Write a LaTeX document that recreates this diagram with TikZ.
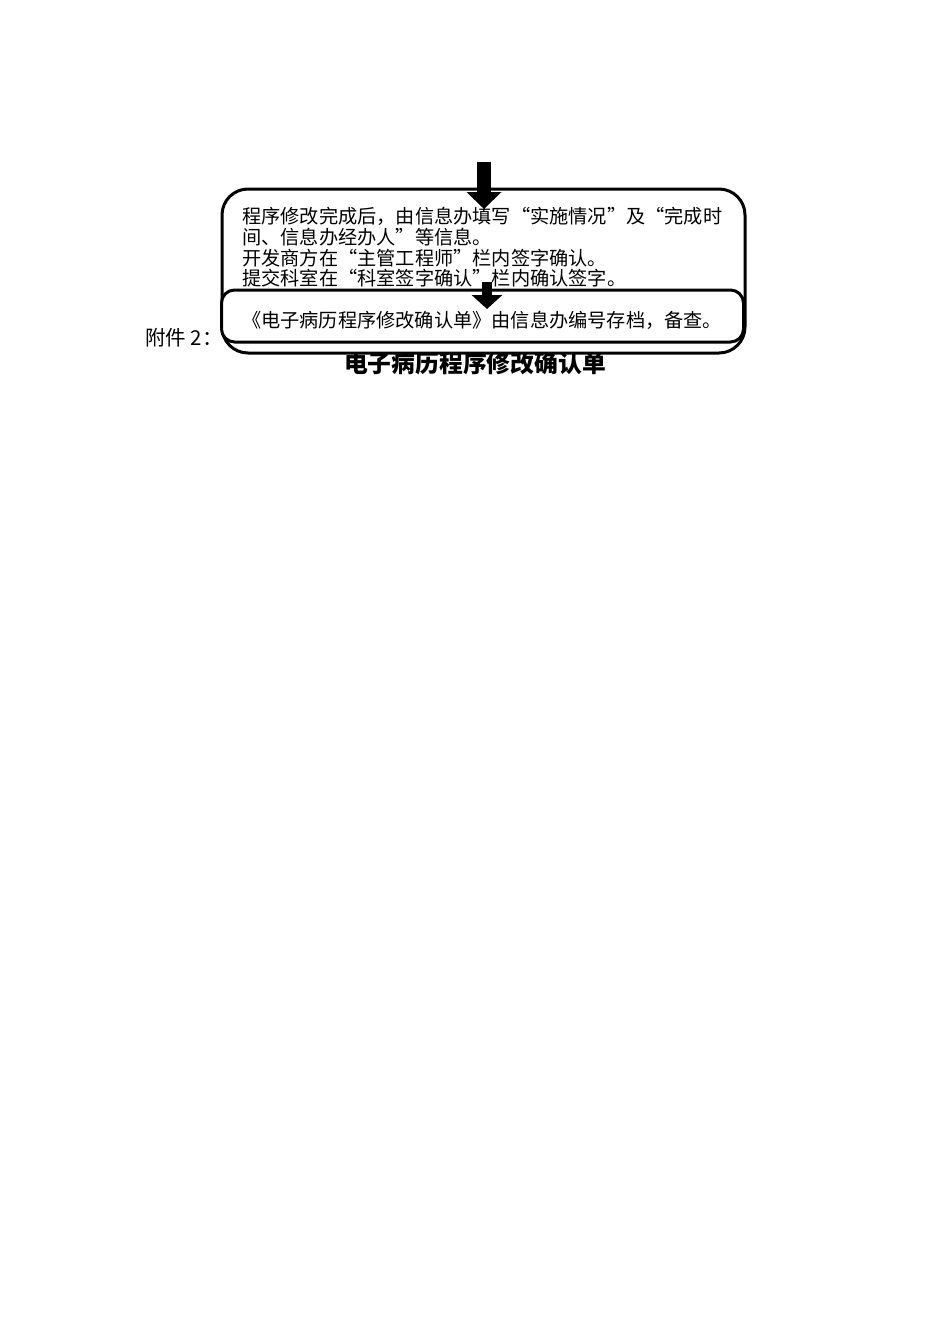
\documentclass[tikz,border=0pt]{standalone}
\usepackage{fontspec}
\newfontfamily\cjk{Noto Sans CJK SC}
\usetikzlibrary{arrows.meta, positioning}

\tikzset{
  flowbox/.style={draw, line width=3pt, fill=white, inner sep=0pt},
  flowtext/.style={font=\cjk\fontsize{19.2}{20.8}\selectfont, inner sep=0pt},
  bigarrow/.style={line width=14pt, -{Triangle[width=34pt,length=17pt]}},
  smallarrow/.style={line width=10pt, -{Triangle[width=30pt,length=14pt]}},
}

\begin{document}
\begin{tikzpicture}[x=1pt,y=-1pt]
    \useasboundingbox (0,0) rectangle (950,1344);

    % title and label behind the boxes
    \node[font=\cjk\bfseries\fontsize{23.8}{24}\selectfont] (title) at (475,363) {电子病历程序修改确认单};
    \node[flowtext, font=\cjk\fontsize{20.5}{21}\selectfont, anchor=west] (annex) at (145,338) {附件 2：};

    \node[flowbox, rounded corners=26pt, minimum width=523pt, minimum height=164pt] (box1) at (483.5,271) {};
    \node[flowtext, align=left, anchor=north west] (step1) at (242,207)
        {程序修改完成后，由信息办填写“实施情况”及“完成时\\
         间、信息办经办人”等信息。\\
         开发商方在“主管工程师”栏内签字确认。\\
         提交科室在“科室签字确认”栏内确认签字。};

    \coordinate (a1top) at (484,162);
    \coordinate (a1tip) at (484,209);
    \draw[bigarrow] (a1top) -- (a1tip);

    \node[flowbox, rounded corners=13pt, minimum width=522pt, minimum height=52pt] (box2) at (482.5,316) {};
    \node[flowtext] (step2) at (482,320) {《电子病历程序修改确认单》由信息办编号存档，备查。};

    \coordinate (a2top) at (487,282);
    \coordinate (a2tip) at (487,309);
    \draw[smallarrow] (a2top) -- (a2tip);

\end{tikzpicture}
\end{document}
